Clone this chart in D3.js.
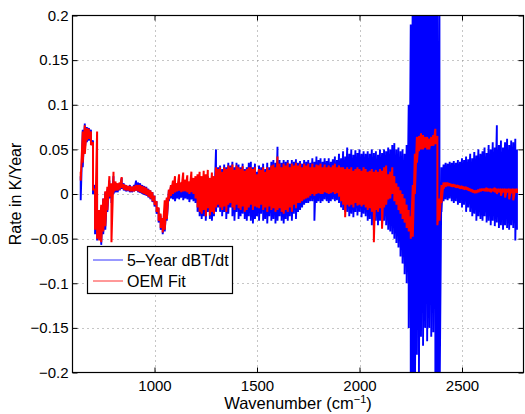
<!DOCTYPE html>
<html><head><meta charset="utf-8">
<script src="https://cdn.jsdelivr.net/npm/d3@7"></script>
<style>
body{margin:0;background:#fff}
text{font-family:"Liberation Sans",Arial,Helvetica,sans-serif;fill:#000}
</style>
</head><body>
<svg id="chart" width="525" height="414"></svg>
<script>
// ---- data (envelope of dense spectra read at each wavenumber sample) ----
const wavenumber = [
 640,650,660,670,680,690,700,710,720,730,
 740,750,760,770,780,790,800,810,820,830,
 840,850,860,870,880,890,900,910,920,930,
 940,950,960,970,980,990,1000,1010,1020,1030,
 1040,1050,1060,1070,1080,1090,1100,1110,1120,1130,
 1140,1150,1160,1170,1180,1190,1200,1210,1220,1230,
 1240,1250,1260,1270,1280,1290,1300,1310,1320,1330,
 1340,1350,1360,1370,1380,1390,1400,1410,1420,1430,
 1440,1450,1460,1470,1480,1490,1500,1510,1520,1530,
 1540,1550,1560,1570,1580,1590,1600,1610,1620,1630,
 1640,1650,1660,1670,1680,1690,1700,1710,1720,1730,
 1740,1750,1760,1770,1780,1790,1800,1810,1820,1830,
 1840,1850,1860,1870,1880,1890,1900,1910,1920,1930,
 1940,1950,1960,1970,1980,1990,2000,2010,2020,2030,
 2040,2050,2060,2070,2080,2090,2100,2110,2120,2130,
 2140,2150,2160,2170,2180,2190,2200,2210,2220,2230,
 2240,2250,2260,2270,2280,2290,2300,2310,2320,2330,
 2340,2350,2360,2370,2380,2390,2400,2410,2420,2430,
 2440,2450,2460,2470,2480,2490,2500,2510,2520,2530,
 2540,2550,2560,2570,2580,2590,2600,2610,2620,2630,
 2640,2650,2660,2670,2680,2690,2700,2710,2720,2730,
 2740,2750,2760,2768
];
const blueHigh = [
 0.020,0.072,0.079,0.075,0.074,0.072,0.060,0.010,0.000,-0.020,
 -0.015,-0.005,0.002,0.005,0.015,0.010,0.020,0.012,0.010,0.012,
 0.018,0.012,0.010,0.009,0.010,0.008,0.010,0.015,0.013,0.012,
 0.010,0.009,0.008,0.006,0.004,0.002,-0.002,-0.008,-0.016,-0.024,
 -0.028,-0.020,-0.005,0.004,0.008,0.012,0.010,0.009,0.015,0.010,
 0.014,0.012,0.010,0.012,0.014,0.010,0.015,0.018,0.020,0.015,
 0.020,0.018,0.020,0.015,0.020,0.018,0.050,0.030,0.032,0.028,
 0.033,0.030,0.035,0.032,0.036,0.030,0.035,0.033,0.030,0.034,
 0.028,0.030,0.035,0.036,0.030,0.034,0.025,0.032,0.030,0.034,
 0.028,0.035,0.030,0.036,0.038,0.035,0.053,0.038,0.035,0.038,
 0.036,0.038,0.034,0.038,0.036,0.039,0.035,0.037,0.034,0.038,
 0.036,0.038,0.035,0.040,0.036,0.042,0.038,0.040,0.036,0.040,
 0.037,0.040,0.036,0.039,0.042,0.038,0.045,0.040,0.048,0.042,
 0.052,0.045,0.050,0.044,0.049,0.046,0.050,0.045,0.048,0.045,
 0.048,0.045,0.050,0.046,0.048,0.044,0.050,0.046,0.050,0.048,
 0.052,0.050,0.055,0.057,0.050,0.052,0.048,0.050,0.045,0.055,
 0.100,0.190,0.250,0.250,0.250,0.250,0.250,0.250,0.250,0.250,
 0.250,0.250,0.250,0.250,0.250,0.200,0.030,0.033,0.035,0.034,
 0.036,0.035,0.037,0.035,0.038,0.036,0.040,0.038,0.042,0.039,
 0.045,0.040,0.047,0.043,0.050,0.045,0.048,0.052,0.046,0.055,
 0.050,0.058,0.052,0.077,0.055,0.060,0.052,0.058,0.062,0.055,
 0.060,0.058,0.062,0.050
];
const blueLow = [
 -0.007,0.030,0.050,0.058,0.060,0.055,0.000,-0.045,-0.052,-0.050,
 -0.057,-0.045,-0.040,-0.020,-0.005,-0.010,0.000,0.002,0.002,0.004,
 0.006,0.004,0.003,0.003,0.002,0.002,0.003,0.004,0.002,0.001,
 0.000,-0.001,-0.002,-0.004,-0.006,-0.009,-0.014,-0.022,-0.032,-0.040,
 -0.045,-0.042,-0.030,-0.008,-0.005,-0.006,-0.008,-0.005,-0.006,-0.004,
 -0.007,-0.005,-0.006,-0.009,-0.006,-0.008,-0.010,-0.020,-0.025,-0.028,
 -0.025,-0.030,-0.020,-0.028,-0.030,-0.025,-0.020,-0.015,-0.020,-0.025,
 -0.020,-0.028,-0.022,-0.015,-0.025,-0.030,-0.020,-0.028,-0.025,-0.022,
 -0.028,-0.030,-0.025,-0.030,-0.033,-0.028,-0.025,-0.030,-0.022,-0.030,
 -0.028,-0.033,-0.025,-0.030,-0.028,-0.033,-0.030,-0.025,-0.030,-0.033,
 -0.028,-0.030,-0.025,-0.030,-0.022,-0.028,-0.020,-0.018,-0.015,-0.012,
 -0.010,-0.010,-0.008,-0.008,-0.030,-0.010,-0.008,-0.010,-0.008,-0.006,
 -0.008,-0.010,-0.008,-0.006,-0.008,-0.007,-0.010,-0.015,-0.018,-0.020,
 -0.020,-0.025,-0.022,-0.026,-0.020,-0.024,-0.020,-0.026,-0.022,-0.025,
 -0.030,-0.028,-0.035,-0.040,-0.030,-0.035,-0.030,-0.036,-0.030,-0.035,
 -0.040,-0.042,-0.045,-0.050,-0.055,-0.060,-0.070,-0.078,-0.090,-0.100,
 -0.150,-0.250,-0.250,-0.250,-0.180,-0.200,-0.160,-0.170,-0.150,-0.165,
 -0.150,-0.160,-0.155,-0.250,-0.250,-0.250,-0.020,-0.008,-0.006,-0.007,
 -0.005,-0.008,-0.010,-0.008,-0.012,-0.010,-0.015,-0.012,-0.020,-0.015,
 -0.020,-0.025,-0.022,-0.030,-0.025,-0.028,-0.030,-0.025,-0.032,-0.030,
 -0.035,-0.030,-0.036,-0.032,-0.038,-0.035,-0.040,-0.035,-0.038,-0.040,
 -0.035,-0.038,-0.052,-0.040
];
const redHigh = [
 0.025,0.070,0.077,0.074,0.073,0.070,0.058,0.005,0.070,-0.018,
 -0.012,-0.005,0.003,0.008,0.020,0.012,0.025,0.014,0.012,0.013,
 0.019,0.011,0.010,0.009,0.009,0.008,0.009,0.010,0.010,0.010,
 0.009,0.008,0.007,0.005,0.004,0.002,-0.002,-0.008,-0.015,-0.022,
 -0.027,-0.007,-0.004,0.005,0.010,0.015,0.020,0.012,0.022,0.013,
 0.024,0.016,0.021,0.014,0.025,0.018,0.020,0.022,0.025,0.020,
 0.026,0.022,0.027,0.018,0.024,0.020,0.030,0.028,0.030,0.025,
 0.030,0.028,0.032,0.030,0.033,0.027,0.032,0.030,0.028,0.031,
 0.026,0.028,0.030,0.030,0.028,0.030,0.022,0.028,0.027,0.030,
 0.025,0.030,0.027,0.032,0.033,0.030,0.042,0.034,0.030,0.034,
 0.032,0.035,0.030,0.034,0.032,0.035,0.032,0.034,0.030,0.034,
 0.032,0.034,0.030,0.034,0.030,0.033,0.032,0.034,0.030,0.033,
 0.030,0.032,0.030,0.032,0.034,0.030,0.032,0.030,0.030,0.028,
 0.030,0.028,0.030,0.026,0.028,0.030,0.028,0.026,0.030,0.028,
 0.025,0.026,0.028,0.025,0.027,0.025,0.028,0.026,0.030,0.032,
 0.022,0.025,0.030,0.020,0.012,0.008,0.004,0.000,-0.005,-0.012,
 -0.018,-0.025,0.010,0.045,0.064,0.065,0.068,0.066,0.064,0.064,
 0.062,0.064,0.066,0.073,0.065,-0.005,0.010,0.013,0.013,0.013,
 0.012,0.011,0.011,0.010,0.010,0.009,0.009,0.008,0.008,0.007,
 0.006,0.005,0.004,0.004,0.005,0.006,0.006,0.006,0.007,0.006,
 0.006,0.006,0.007,0.006,0.006,0.006,0.006,0.006,0.006,0.006,
 0.006,0.006,0.006,0.006
];
const redLow = [
 0.015,0.035,0.045,0.060,0.062,0.055,0.005,-0.040,-0.050,-0.052,
 -0.054,-0.042,-0.036,-0.018,-0.003,-0.054,0.002,0.004,0.004,0.005,
 0.007,0.005,0.004,0.004,0.003,0.003,0.003,0.004,0.003,0.002,
 0.001,0.000,-0.001,-0.003,-0.005,-0.008,-0.012,-0.020,-0.030,-0.038,
 -0.043,-0.040,-0.028,-0.006,-0.002,0.000,0.002,0.003,0.004,0.002,
 0.003,0.003,0.002,0.000,0.002,0.000,-0.005,-0.015,-0.020,-0.022,
 -0.018,-0.025,-0.016,-0.024,-0.020,-0.022,-0.015,-0.012,-0.015,-0.018,
 -0.014,-0.020,-0.012,-0.010,-0.015,-0.018,-0.012,-0.016,-0.018,-0.014,
 -0.020,-0.018,-0.015,-0.012,-0.018,-0.014,-0.015,-0.016,-0.012,-0.018,
 -0.015,-0.020,-0.014,-0.018,-0.016,-0.020,-0.018,-0.016,-0.020,-0.022,
 -0.018,-0.020,-0.015,-0.020,-0.012,-0.016,-0.010,-0.010,-0.008,-0.006,
 -0.005,-0.004,-0.002,0.000,-0.002,0.000,0.001,0.000,0.000,0.002,
 0.001,0.000,0.001,0.002,0.000,0.001,-0.003,-0.008,-0.012,-0.026,
 -0.012,-0.014,-0.012,-0.015,-0.010,-0.013,-0.012,-0.014,-0.012,-0.015,
 -0.018,-0.016,-0.020,-0.054,-0.018,-0.020,-0.016,-0.039,-0.015,-0.012,
 -0.006,-0.005,0.000,-0.008,-0.012,-0.018,-0.022,-0.028,-0.032,-0.038,
 -0.042,-0.050,-0.048,0.000,0.035,0.048,0.050,0.050,0.052,0.050,
 0.050,0.054,0.054,0.056,-0.035,-0.030,-0.010,0.006,0.008,0.009,
 0.009,0.008,0.008,0.007,0.007,0.006,0.006,0.005,0.005,0.004,
 0.003,0.002,0.001,0.001,0.002,0.003,0.004,0.003,0.003,0.003,
 0.002,0.003,0.002,0.000,0.002,-0.002,0.002,-0.004,0.002,-0.006,
 0.001,-0.007,0.002,0.001
];
const xTicks = [1000, 1500, 2000, 2500];
const yTicks = [-0.2, -0.15, -0.1, -0.05, 0, 0.05, 0.1, 0.15, 0.2];
const yTickLabels = ["\u22120.2","\u22120.15","\u22120.1","\u22120.05","0","0.05","0.1","0.15","0.2"];
const seriesNames = ["5\u2013Year dBT/dt", "OEM Fit"];
const seriesColors = ["#0000ff", "#ff0000"];

// ---- layout ----
const L = 72.5, R = 523.5, T = 15.5, B = 372.5;
const svg = d3.select("#chart");
const x = d3.scaleLinear().domain([600, 2800]).range([L, R]);
const y = d3.scaleLinear().domain([-0.2, 0.2]).range([B, T]);

svg.append("defs").append("clipPath").attr("id","clip")
  .append("rect").attr("x",L).attr("y",T).attr("width",R-L).attr("height",B-T);

// grid
const grid = svg.append("g");
grid.selectAll(".gx").data(xTicks).join("line")
  .attr("x1",d=>Math.round(x(d))+0.5).attr("x2",d=>Math.round(x(d))+0.5)
  .attr("y1",T).attr("y2",B)
  .attr("stroke","#8c8c8c").attr("stroke-width",1).attr("stroke-dasharray","1,4");
grid.selectAll(".gy").data(yTicks.slice(1,-1)).join("line")
  .attr("y1",d=>Math.round(y(d))+0.5).attr("y2",d=>Math.round(y(d))+0.5)
  .attr("x1",L).attr("x2",R)
  .attr("stroke","#8c8c8c").attr("stroke-width",1).attr("stroke-dasharray","1,4");

// series
function envelopePoints(hi, lo){
  const pts = [];
  wavenumber.forEach((w,i)=>{ pts.push([w, hi[i]]); pts.push([w, lo[i]]); });
  return pts;
}
const line = d3.line().x(d=>x(d[0])).y(d=>y(d[1]));
const plot = svg.append("g").attr("clip-path","url(#clip)");
plot.append("path").attr("d", line(envelopePoints(blueHigh, blueLow)))
  .attr("fill","none").attr("stroke",seriesColors[0]).attr("stroke-width",1.9)
  .attr("stroke-linejoin","miter").attr("stroke-miterlimit",2);
plot.append("path").attr("d", line(envelopePoints(redHigh, redLow)))
  .attr("fill","none").attr("stroke",seriesColors[1]).attr("stroke-width",2)
  .attr("stroke-linejoin","miter").attr("stroke-miterlimit",2);

// axes (ticks inward on all four sides)
const fs = "15px";
const axB = svg.append("g").attr("transform",`translate(0,${B})`)
  .call(d3.axisBottom(x).tickValues(xTicks).tickSize(-5).tickPadding(8).tickFormat(d3.format("d")));
const axT = svg.append("g").attr("transform",`translate(0,${T})`)
  .call(d3.axisTop(x).tickValues(xTicks).tickSize(-5).tickFormat(""));
const axLft = svg.append("g").attr("transform",`translate(${L},0)`)
  .call(d3.axisLeft(y).tickValues(yTicks).tickSize(-5).tickPadding(4).tickFormat((d,i)=>yTickLabels[i]));
const axRt = svg.append("g").attr("transform",`translate(${R},0)`)
  .call(d3.axisRight(y).tickValues(yTicks).tickSize(-5).tickFormat(""));
[axB,axT,axLft,axRt].forEach(g=>{
  g.select(".domain").remove();
  g.selectAll("line").attr("stroke","#000");
  g.selectAll("text").attr("font-size",fs).attr("font-family","'Liberation Sans',Arial,sans-serif").attr("fill","#000");
});
svg.append("rect").attr("x",L).attr("y",T).attr("width",R-L).attr("height",B-T)
  .attr("fill","none").attr("stroke","#000").attr("stroke-width",1.2);

// axis labels
const xl = svg.append("text").attr("x",(L+R)/2).attr("y",409).attr("text-anchor","middle").attr("font-size","16.5px");
xl.append("tspan").text("Wavenumber (cm");
xl.append("tspan").attr("font-size","11px").attr("dy",-6).text("\u22121");
xl.append("tspan").attr("dy",6).text(")");
svg.append("text").attr("transform",`translate(21,${(T+B)/2}) rotate(-90)`)
  .attr("text-anchor","middle").attr("font-size","16px").text("Rate in K/Year");

// legend
const lg = svg.append("g");
lg.append("rect").attr("x",87.5).attr("y",246.5).attr("width",145).attr("height",47)
  .attr("fill","#fff").attr("stroke","#000").attr("stroke-width",1.2);
seriesNames.forEach((name,i)=>{
  const yy = 260 + i*21;
  lg.append("line").attr("x1",93).attr("x2",123).attr("y1",yy).attr("y2",yy)
    .attr("stroke",seriesColors[i]).attr("stroke-width",1).attr("opacity",0.8);
  lg.append("text").attr("x",127).attr("y",yy+5.5).attr("font-size","16px").text(name);
});
</script>
</body></html>
